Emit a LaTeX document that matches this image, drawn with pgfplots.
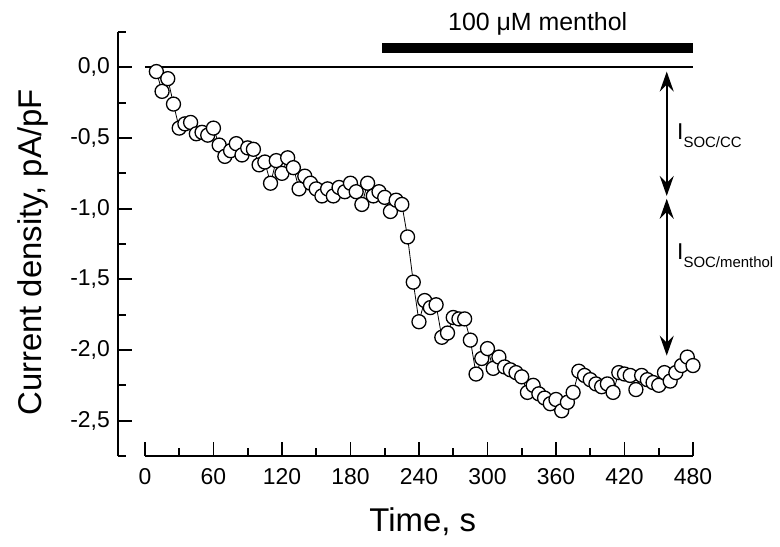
\documentclass[border=0pt]{standalone}
\usepackage{fontspec}
\setmainfont{Liberation Sans}
\usepackage{pgfplots}
\usepackage{pgfplotstable}
\pgfplotsset{compat=1.18}
\usetikzlibrary{arrows.meta}

% current density (pA/pF) against time (s)
\pgfplotstableread{
t v
10 -0.03
15 -0.17
20 -0.08
25 -0.26
30 -0.43
35 -0.40
40 -0.39
45 -0.47
50 -0.46
55 -0.48
60 -0.43
65 -0.55
70 -0.63
75 -0.59
80 -0.54
85 -0.62
90 -0.57
95 -0.58
100 -0.69
105 -0.67
110 -0.82
115 -0.66
120 -0.75
125 -0.64
130 -0.71
135 -0.86
140 -0.77
145 -0.82
150 -0.86
155 -0.91
160 -0.86
165 -0.91
170 -0.85
175 -0.88
180 -0.82
185 -0.88
190 -0.97
195 -0.82
200 -0.91
205 -0.88
210 -0.92
215 -1.02
220 -0.94
225 -0.97
230 -1.20
235 -1.52
240 -1.80
245 -1.65
250 -1.70
255 -1.68
260 -1.91
265 -1.88
270 -1.77
275 -1.78
280 -1.78
285 -1.93
290 -2.17
295 -2.06
300 -1.99
305 -2.13
310 -2.05
315 -2.12
320 -2.14
325 -2.16
330 -2.19
335 -2.30
340 -2.25
345 -2.31
350 -2.34
355 -2.38
360 -2.35
365 -2.43
370 -2.37
375 -2.30
380 -2.15
385 -2.18
390 -2.21
395 -2.24
400 -2.26
405 -2.24
410 -2.30
415 -2.16
420 -2.17
425 -2.18
430 -2.28
435 -2.18
440 -2.21
445 -2.23
450 -2.25
455 -2.16
460 -2.22
465 -2.16
470 -2.11
475 -2.05
480 -2.11
}\currentdata

\begin{document}
\begin{tikzpicture}
\useasboundingbox (-118bp,-91bp) rectangle (662bp,456bp);
\begin{axis}[
  at={(0bp,0bp)}, anchor=south west,
  scale only axis, width=575bp, height=424bp,
  xmin=-23.6, xmax=480, ymin=-2.75, ymax=0.25,
  axis x line*=bottom, axis y line*=left,
  axis line style={line width=1.8bp},
  x axis line style={shorten <=27bp},
  tick align=inside,
  tick style={line width=1.8bp, black},
  major tick length=14bp, minor tick length=8bp,
  xtick={0,60,...,480},
  xticklabels={0,60,120,180,240,300,360,420,480},
  minor xtick={30,90,...,450},
  ytick={-2.5,-2,-1.5,-1,-0.5,0},
  yticklabels={{-2,5},{-2,0},{-1,5},{-1,0},{-0,5},{0,0}},
  minor ytick={-2.75,-2.25,-1.75,-1.25,-0.75,-0.25,0.25},
  ticklabel style={font=\fontsize{23}{23}\selectfont},
  yticklabel style={anchor=east, inner sep=0pt, xshift=-8bp},
  xticklabel style={anchor=north, inner sep=0pt, yshift=-12bp},
  xlabel={Time, s},
  ylabel={Current density, pA/pF},
  label style={font=\fontsize{33}{33}\selectfont},
  xlabel style={at={(axis description cs:0.53,-0.155)}, anchor=center},
  ylabel style={at={(axis description cs:-0.148,0.48)}, anchor=center, rotate=0},
  clip=false,
]
\draw[line width=2bp] (axis cs:0,0) -- (axis cs:480,0);
\draw[line width=10bp] (axis cs:208,0.137) -- (axis cs:480,0.137);
\node[anchor=base, font=\fontsize{25}{25}\selectfont] at (axis cs:344,0.259) {100 μM menthol};
\draw[line width=1.8bp, {Stealth[length=20bp,width=14bp,inset=7bp]}-{Stealth[length=20bp,width=14bp,inset=7bp]}]
  (axis cs:457,-0.03) -- (axis cs:457,-0.91);
\draw[line width=1.8bp, {Stealth[length=20bp,width=14bp,inset=7bp]}-{Stealth[length=20bp,width=14bp,inset=7bp]}]
  (axis cs:457,-0.93) -- (axis cs:457,-2.04);
\node[anchor=base west, inner sep=0pt, font=\fontsize{23}{23}\selectfont] at (axis cs:466,-0.51)
  {I\raisebox{-8bp}{\fontsize{15}{15}\selectfont SOC/CC}};
\node[anchor=base west, inner sep=0pt, font=\fontsize{23}{23}\selectfont] at (axis cs:466,-1.358)
  {I\raisebox{-8bp}{\fontsize{15}{15}\selectfont SOC/menthol}};
\addplot[black, line width=0.8bp, mark=*, mark size=7bp,
  mark options={fill=white, draw=black, line width=1.3bp}]
  table[x=t, y=v] {\currentdata};
\end{axis}
\end{tikzpicture}
\end{document}
